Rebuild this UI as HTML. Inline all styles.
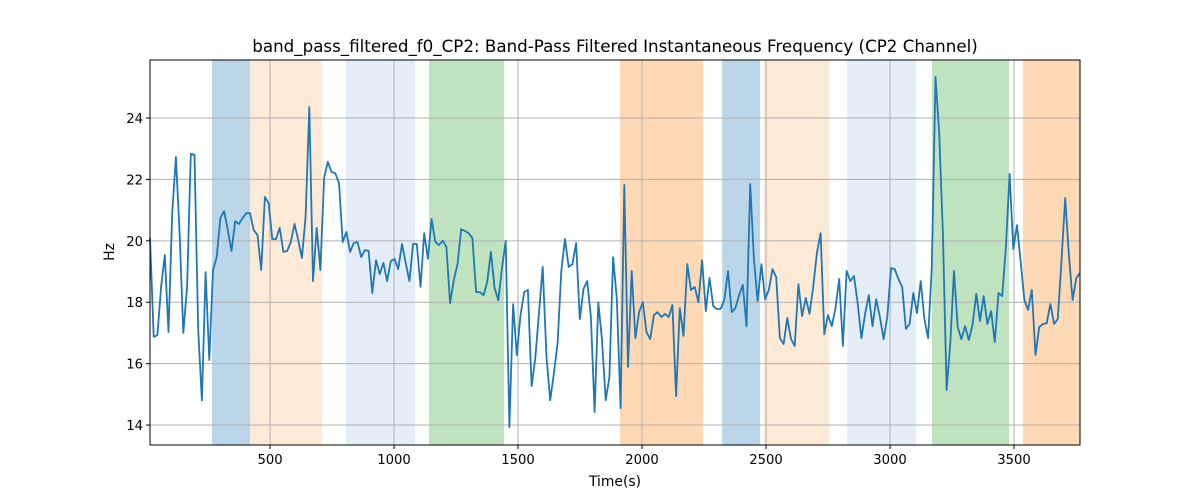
<!DOCTYPE html>
<html><head><meta charset="utf-8"><style>body{margin:0;background:#fff}svg{display:block}text{font-family:"DejaVu Sans","Liberation Sans",sans-serif;fill:#000}</style></head>
<body>
<svg id="chart" width="1200" height="500" viewBox="0 0 1200 500" xmlns="http://www.w3.org/2000/svg">
<text x="615" y="52" font-size="16.7" text-anchor="middle">band_pass_filtered_f0_CP2: Band-Pass Filtered Instantaneous Frequency (CP2 Channel)</text>
<g id="spans"></g><g id="grid"></g><g id="series"></g><g id="axes"></g>
<text x="615" y="486" font-size="13.9" text-anchor="middle">Time(s)</text>
<text x="114" y="252" font-size="13.9" text-anchor="middle" transform="rotate(-90 114 252)">Hz</text>
</svg>
<script>
const xTicks=[500,1000,1500,2000,2500,3000,3500];
const yTicks=[14,16,18,20,22,24];
const spanStarts=[266,419,806,1141,1911,2323,2492,2827,3169,3536];
const spanEnds=[419,710,1085,1444,2246,2476,2754,3105,3480,3766];
const spanColors=["rgba(31,119,180,0.3)","rgba(255,127,14,0.16)","rgba(174,199,232,0.32)","rgba(44,160,44,0.3)","rgba(255,127,14,0.3)","rgba(31,119,180,0.3)","rgba(255,127,14,0.16)","rgba(174,199,232,0.32)","rgba(44,160,44,0.3)","rgba(255,127,14,0.3)"];
const tStart=16, tEnd=3766;
const values=[20.1,16.87,16.93,18.5,19.54,17.03,20.9,22.73,20.25,17.0,18.5,22.83,22.8,17.1,14.8,18.98,16.12,19.05,19.47,20.74,20.97,20.35,19.67,20.64,20.55,20.74,20.9,20.9,20.35,20.19,19.05,21.43,21.23,20.06,20.06,20.42,19.64,19.67,19.96,20.55,20.03,19.44,20.78,24.36,18.69,20.42,19.05,22.05,22.57,22.24,22.2,21.88,19.96,20.29,19.64,19.93,19.96,19.47,19.7,19.67,18.3,19.37,18.92,19.28,18.69,19.34,19.41,19.08,19.9,19.28,18.69,19.9,19.9,18.5,20.25,19.41,20.71,19.96,19.86,20.0,19.8,17.97,18.72,19.24,20.38,20.32,
20.25,20.09,18.33,18.33,18.23,18.66,19.64,18.46,18.07,19.11,20.0,13.93,17.94,16.28,17.58,18.33,18.4,15.27,16.18,17.65,19.15,16.22,14.81,15.69,16.67,19.02,20.06,19.15,19.24,19.93,17.45,18.43,18.69,17.52,14.42,18.0,16.77,14.81,15.56,19.47,18.07,14.55,21.82,15.89,19.02,16.83,17.68,18.0,17.03,16.8,17.58,17.68,17.52,17.62,17.52,17.91,14.94,17.81,16.9,19.24,18.4,18.5,18.0,19.37,17.71,18.79,17.88,17.78,17.78,18.07,19.02,17.68,17.81,18.23,18.56,17.22,21.85,19.41,18.04,19.24,18.1,18.4,19.08,18.82,
16.83,16.64,17.49,16.8,16.57,18.59,17.55,18.14,17.62,18.5,19.6,20.25,16.96,17.58,17.22,17.81,18.76,16.57,19.02,18.69,18.85,17.97,16.83,17.62,18.23,17.22,18.1,17.52,16.8,17.52,19.11,19.08,18.76,18.5,17.13,17.29,18.3,17.65,18.69,17.45,16.83,19.15,25.34,23.51,20.25,15.14,16.67,19.02,17.19,16.8,17.22,16.77,17.26,18.27,17.39,18.2,17.29,17.71,16.7,18.3,18.2,19.8,22.18,19.73,20.51,19.31,18.07,17.75,18.4,16.28,17.19,17.29,17.32,17.94,17.29,17.45,19.37,21.39,19.54,18.07,18.79,18.95];
const L=150,R=1080,T=60,B=445,xMin=16,xMax=3766,yMin=13.35,yMax=25.89;
const sx=v=>L+(v-xMin)/(xMax-xMin)*(R-L);
const sy=v=>B-(v-yMin)/(yMax-yMin)*(B-T);
const NS="http://www.w3.org/2000/svg";
function mk(tag,attrs,parent){const e=document.createElementNS(NS,tag);for(const k in attrs)e.setAttribute(k,attrs[k]);parent.appendChild(e);return e;}
const spans=document.getElementById('spans'),grid=document.getElementById('grid'),series=document.getElementById('series'),axes=document.getElementById('axes');
spanStarts.forEach((s,i)=>{const r=mk('rect',{x:sx(s),y:T,width:sx(spanEnds[i])-sx(s),height:B-T,fill:spanColors[i]},spans);

});
xTicks.forEach(t=>{const x=sx(t);const g=mk('line',{x1:x,x2:x,y1:T,y2:B,stroke:'#b0b0b0','stroke-width':1},grid);


const tk=mk('line',{x1:x,x2:x,y1:B,y2:B+4,stroke:'#000'},axes);


const tx=mk('text',{x:x,y:B+19,'font-size':13.2,'text-anchor':'middle'},axes);tx.textContent=t;

});
yTicks.forEach(t=>{const y=sy(t);const g=mk('line',{x1:L,x2:R,y1:y,y2:y,stroke:'#b0b0b0','stroke-width':1},grid);


const tk=mk('line',{x1:L-4,x2:L,y1:y,y2:y,stroke:'#000'},axes);


const tx=mk('text',{x:L-7,y:y+5,'font-size':13.2,'text-anchor':'end'},axes);tx.textContent=t;

});
const n=values.length,dt=(tEnd-tStart)/(n-1);
const pts=values.map((v,i)=>sx(tStart+i*dt).toFixed(1)+','+sy(v).toFixed(1)).join(' ');
const pl=mk('polyline',{points:pts,fill:'none',stroke:'#1f77b4','stroke-width':1.8,'stroke-linejoin':'round'},series);


const fr=mk('rect',{x:L,y:T,width:R-L,height:B-T,fill:'none',stroke:'#000','stroke-width':1},axes);


</script>
</body></html>
